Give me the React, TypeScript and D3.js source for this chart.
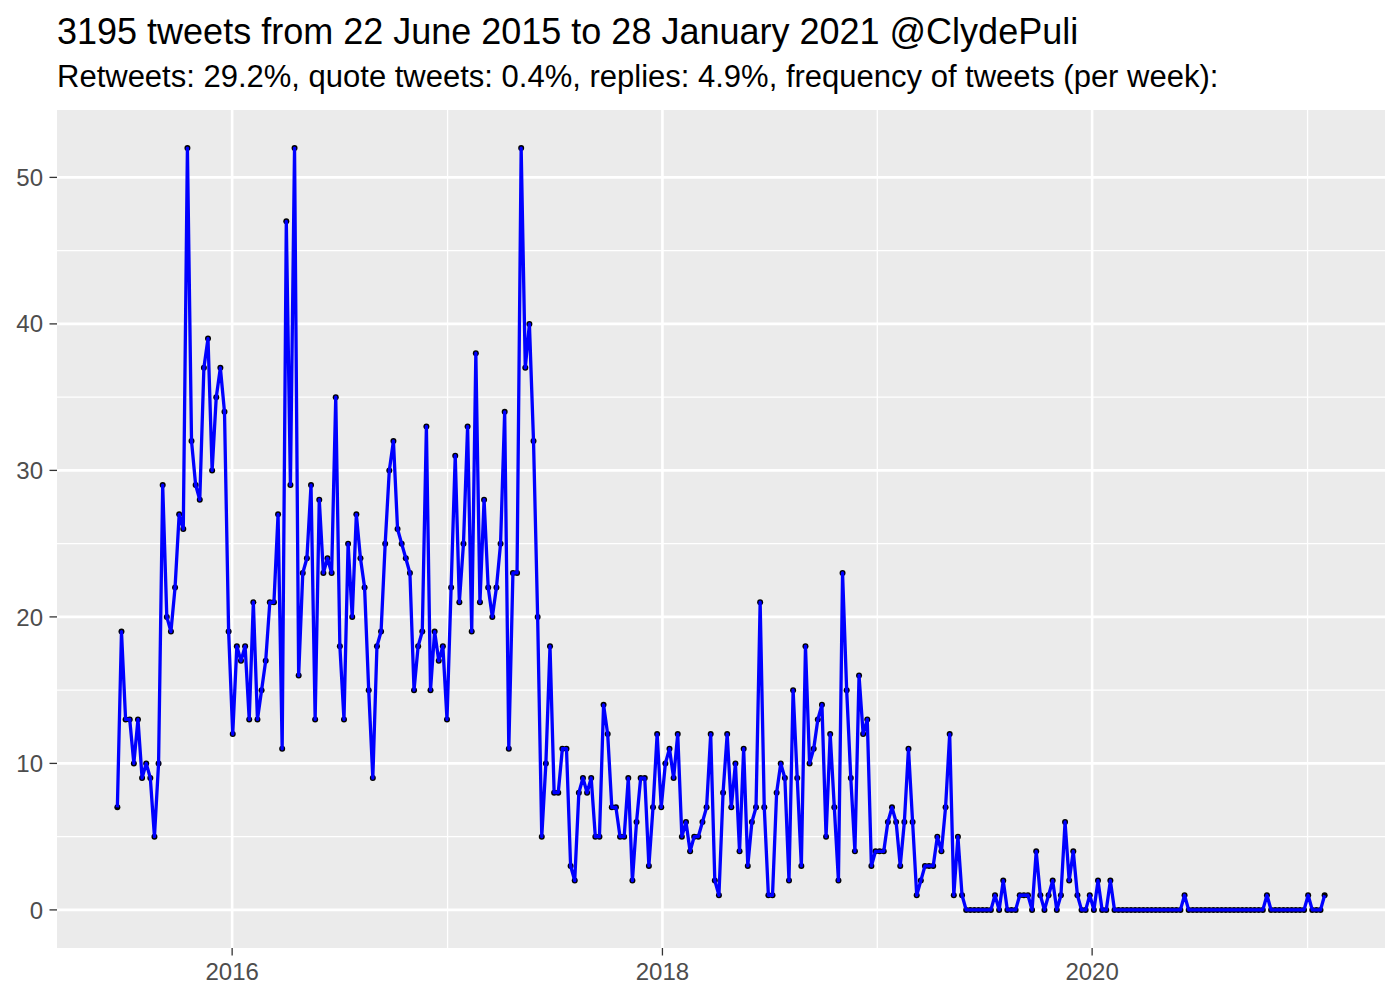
import React from "react";
import * as d3 from "d3";

const startDate = "2015-06-20";
const weeklyTweets = [
  7, 19, 13, 13, 10, 13, 9, 10, 9, 5,
  10, 29, 20, 19, 22, 27, 26, 52, 32, 29,
  28, 37, 39, 30, 35, 37, 34, 19, 12, 18,
  17, 18, 13, 21, 13, 15, 17, 21, 21, 27,
  11, 47, 29, 52, 16, 23, 24, 29, 13, 28,
  23, 24, 23, 35, 18, 13, 25, 20, 27, 24,
  22, 15, 9, 18, 19, 25, 30, 32, 26, 25,
  24, 23, 15, 18, 19, 33, 15, 19, 17, 18,
  13, 22, 31, 21, 25, 33, 19, 38, 21, 28,
  22, 20, 22, 25, 34, 11, 23, 23, 52, 37,
  40, 32, 20, 5, 10, 18, 8, 8, 11, 11,
  3, 2, 8, 9, 8, 9, 5, 5, 14, 12,
  7, 7, 5, 5, 9, 2, 6, 9, 9, 3,
  7, 12, 7, 10, 11, 9, 12, 5, 6, 4,
  5, 5, 6, 7, 12, 2, 1, 8, 12, 7,
  10, 4, 11, 3, 6, 7, 21, 7, 1, 1,
  8, 10, 9, 2, 15, 9, 3, 18, 10, 11,
  13, 14, 5, 12, 7, 2, 23, 15, 9, 4,
  16, 12, 13, 3, 4, 4, 4, 6, 7, 6,
  3, 6, 11, 6, 1, 2, 3, 3, 3, 5,
  4, 7, 12, 1, 5, 1, 0, 0, 0, 0,
  0, 0, 0, 1, 0, 2, 0, 0, 0, 1,
  1, 1, 0, 4, 1, 0, 1, 2, 0, 1,
  6, 2, 4, 1, 0, 0, 1, 0, 2, 0,
  0, 2, 0, 0, 0, 0, 0, 0, 0, 0,
  0, 0, 0, 0, 0, 0, 0, 0, 0, 1,
  0, 0, 0, 0, 0, 0, 0, 0, 0, 0,
  0, 0, 0, 0, 0, 0, 0, 0, 0, 1,
  0, 0, 0, 0, 0, 0, 0, 0, 0, 1,
  0, 0, 0, 1,
];
const yMajorTicks = [0, 10, 20, 30, 40, 50];
const yMinorTicks = [5, 15, 25, 35, 45];
const xMajorYears = [2016, 2018, 2020];
const xMinorYears = [2015, 2017, 2019, 2021];
const titleText = "3195 tweets from 22 June 2015 to 28 January 2021 @ClydePuli";
const subtitleText =
  "Retweets: 29.2%, quote tweets: 0.4%, replies: 4.9%, frequency of tweets (per week):";

const W = 1400;
const H = 1000;
const panel = { left: 57, right: 1385, top: 110, bottom: 948 };
const FONT = "'Liberation Sans', Arial, Helvetica, sans-serif";

export default function App() {
  const start = new Date(startDate + "T00:00:00Z");
  const data = weeklyTweets.map((v, i) => ({
    date: d3.utcDay.offset(start, 7 * i),
    value: v,
  }));
  const [d0, d1] = d3.extent(data, (d) => d.date) as [Date, Date];
  const span = +d1 - +d0;
  const x = d3
    .scaleUtc()
    .domain([new Date(+d0 - span * 0.05), new Date(+d1 + span * 0.05)])
    .range([panel.left, panel.right]);
  const yMax = d3.max(weeklyTweets) as number;
  const yPad = yMax * 0.05;
  const y = d3
    .scaleLinear()
    .domain([0 - yPad, yMax + yPad])
    .range([panel.bottom, panel.top]);

  const line = d3
    .line<{ date: Date; value: number }>()
    .x((d) => x(d.date))
    .y((d) => y(d.value));

  const yearDate = (yr: number) => new Date(Date.UTC(yr, 0, 1));
  const inX = (yr: number) => {
    const px = x(yearDate(yr));
    return px >= panel.left && px <= panel.right;
  };

  return (
    <svg
      width={W}
      height={H}
      style={{ position: "absolute", left: 0, top: 0, background: "#fff" }}
      fontFamily={FONT}
    >
      <rect x={0} y={0} width={W} height={H} fill="#fff" />
      <text x={panel.left} y={44} fontSize={36} fill="#000">
        {titleText}
      </text>
      <text x={panel.left} y={87} fontSize={31} fill="#000">
        {subtitleText}
      </text>
      <rect
        x={panel.left}
        y={panel.top}
        width={panel.right - panel.left}
        height={panel.bottom - panel.top}
        fill="#EBEBEB"
      />
      {yMinorTicks.map((t) => (
        <line
          key={"ym" + t}
          x1={panel.left}
          x2={panel.right}
          y1={y(t)}
          y2={y(t)}
          stroke="#fff"
          strokeWidth={1.3}
        />
      ))}
      {xMinorYears.filter(inX).map((yr) => (
        <line
          key={"xm" + yr}
          x1={x(yearDate(yr))}
          x2={x(yearDate(yr))}
          y1={panel.top}
          y2={panel.bottom}
          stroke="#fff"
          strokeWidth={1.3}
        />
      ))}
      {yMajorTicks.map((t) => (
        <line
          key={"yM" + t}
          x1={panel.left}
          x2={panel.right}
          y1={y(t)}
          y2={y(t)}
          stroke="#fff"
          strokeWidth={2.6}
        />
      ))}
      {xMajorYears.map((yr) => (
        <line
          key={"xM" + yr}
          x1={x(yearDate(yr))}
          x2={x(yearDate(yr))}
          y1={panel.top}
          y2={panel.bottom}
          stroke="#fff"
          strokeWidth={2.6}
        />
      ))}
      {data.map((d, i) => (
        <circle key={"p" + i} cx={x(d.date)} cy={y(d.value)} r={3} fill="#000" />
      ))}
      <path d={line(data) || ""} fill="none" stroke="#0000FF" strokeWidth={3.3} strokeLinejoin="round" />
      {yMajorTicks.map((t) => (
        <g key={"yt" + t}>
          <line x1={panel.left - 7.5} x2={panel.left} y1={y(t)} y2={y(t)} stroke="#333" strokeWidth={1.3} />
          <text
            x={panel.left - 14}
            y={y(t) + 8.6}
            fontSize={24}
            fill="#4D4D4D"
            textAnchor="end"
          >
            {t}
          </text>
        </g>
      ))}
      {xMajorYears.map((yr) => (
        <g key={"xt" + yr}>
          <line
            x1={x(yearDate(yr))}
            x2={x(yearDate(yr))}
            y1={panel.bottom}
            y2={panel.bottom + 7.5}
            stroke="#333"
            strokeWidth={1.3}
          />
          <text
            x={x(yearDate(yr))}
            y={980}
            fontSize={24}
            fill="#4D4D4D"
            textAnchor="middle"
          >
            {yr}
          </text>
        </g>
      ))}
    </svg>
  );
}
